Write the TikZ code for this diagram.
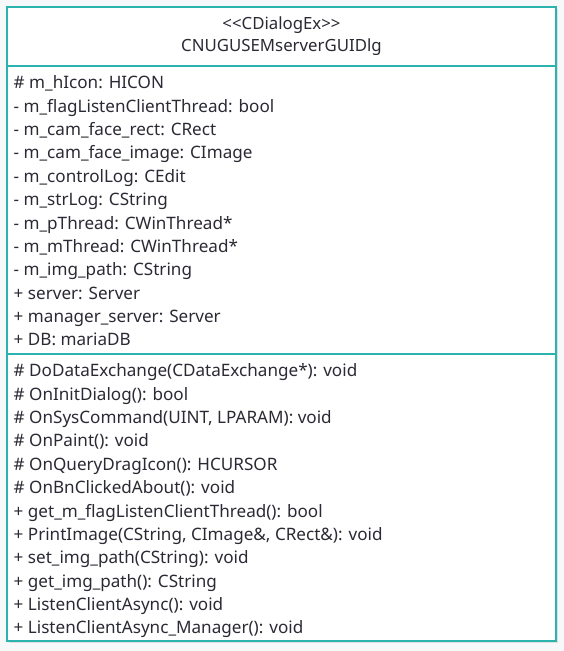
\documentclass[tikz,border=0pt]{standalone}
\usepackage{fontspec}
\setmainfont{Noto Sans}
\usepackage{xcolor}
\usetikzlibrary{positioning}

\definecolor{umlteal}{RGB}{43,179,173}
\definecolor{umltext}{RGB}{42,42,52}
\definecolor{canvasbg}{RGB}{247,248,250}

\tikzset{
  classbox/.style={rectangle, draw=umlteal, line width=2pt, fill=white, inner sep=0pt},
  sepline/.style={draw=umlteal, line width=2pt},
  headtext/.style={inner sep=0pt, font=\fontsize{16.8}{19}\selectfont, text=umltext},
  member/.style={inner sep=0pt, minimum height=22.95pt, text height=12.5pt, text depth=4pt,
    font=\fontsize{17.1}{19}\selectfont, text=umltext},
}

\begin{document}
\begin{tikzpicture}[x=1pt, y=-1pt]
    \fill[canvasbg] (0,0) rectangle (564,651);
    \useasboundingbox (0,0) rectangle (564,651);

    % class frame
    \fill[black!12] (8.5,9) rectangle (557.5,643);
    \node[classbox, minimum width=549pt, minimum height=634pt] (cls) at (281.5,324) {};
    \coordinate (sepA) at (0,66);
    \coordinate (sepB) at (0,354);
    \draw[sepline] (cls.west |- sepA) -- (cls.east |- sepA);
    \draw[sepline] (cls.west |- sepB) -- (cls.east |- sepB);

    % header
    \node[headtext] (stereo) at (281.5,25) {{<}{<}CDialogEx{>}{>}};
    \node[headtext] (cname) at (281.5,47) {CNUGUSEMserverGUIDlg};

    % attributes
    \node[member, anchor=north west] (a1) at (13.5,73) {\# m\_hIcon: HICON};
    \node[member, below right=0pt of a1.south west] (a2) {- m\_flagListenClientThread: bool};
    \node[member, below right=0pt of a2.south west] (a3) {- m\_cam\_face\_rect: CRect};
    \node[member, below right=0pt of a3.south west] (a4) {- m\_cam\_face\_image: CImage};
    \node[member, below right=0pt of a4.south west] (a5) {- m\_controlLog: CEdit};
    \node[member, below right=0pt of a5.south west] (a6) {- m\_strLog: CString};
    \node[member, below right=0pt of a6.south west] (a7) {- m\_pThread: CWinThread*};
    \node[member, below right=0pt of a7.south west] (a8) {- m\_mThread: CWinThread*};
    \node[member, below right=0pt of a8.south west] (a9) {- m\_img\_path: CString};
    \node[member, below right=0pt of a9.south west] (a10) {+ server: Server};
    \node[member, below right=0pt of a10.south west] (a11) {+ manager\_server: Server};
    \node[member, below right=0pt of a11.south west] (a12) {+ DB: mariaDB};

    % operations
    \node[member, anchor=north west] (m1) at (13.5,361) {\# DoDataExchange(CDataExchange*): void};
    \node[member, below right=0pt of m1.south west] (m2) {\# OnInitDialog(): bool};
    \node[member, below right=0pt of m2.south west] (m3) {\# OnSysCommand(UINT, LPARAM): void};
    \node[member, below right=0pt of m3.south west] (m4) {\# OnPaint(): void};
    \node[member, below right=0pt of m4.south west] (m5) {\# OnQueryDragIcon(): HCURSOR};
    \node[member, below right=0pt of m5.south west] (m6) {\# OnBnClickedAbout(): void};
    \node[member, below right=0pt of m6.south west] (m7) {+ get\_m\_flagListenClientThread(): bool};
    \node[member, below right=0pt of m7.south west] (m8) {+ PrintImage(CString, CImage\&, CRect\&): void};
    \node[member, below right=0pt of m8.south west] (m9) {+ set\_img\_path(CString): void};
    \node[member, below right=0pt of m9.south west] (m10) {+ get\_img\_path(): CString};
    \node[member, below right=0pt of m10.south west] (m11) {+ ListenClientAsync(): void};
    \node[member, below right=0pt of m11.south west] (m12) {+ ListenClientAsync\_Manager(): void};
\end{tikzpicture}
\end{document}
